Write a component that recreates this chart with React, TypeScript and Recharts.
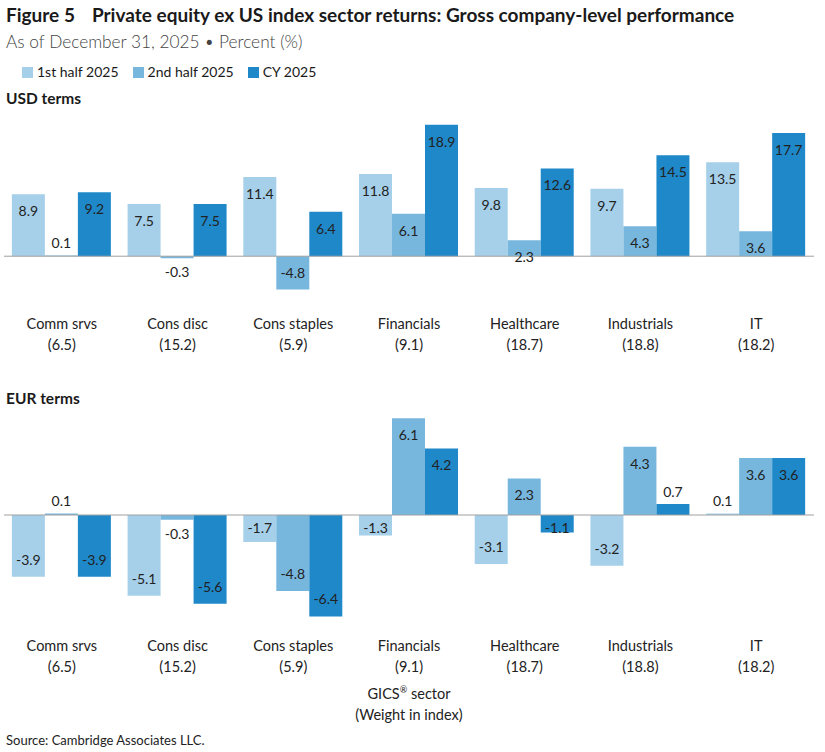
import React from 'react';
import { BarChart, Bar, XAxis, YAxis, ReferenceLine, LabelList } from 'recharts';

const categories = ['Comm srvs', 'Cons disc', 'Cons staples', 'Financials', 'Healthcare', 'Industrials', 'IT'];
const weights = ['6.5', '15.2', '5.9', '9.1', '18.7', '18.8', '18.2'];

const usdFirstHalf = [8.9, 7.5, 11.4, 11.8, 9.8, 9.7, 13.5];
const usdSecondHalf = [0.1, -0.3, -4.8, 6.1, 2.3, 4.3, 3.6];
const usdFullYear = [9.2, 7.5, 6.4, 18.9, 12.6, 14.5, 17.7];

const eurFirstHalf = [-3.9, -5.1, -1.7, -1.3, -3.1, -3.2, 0.1];
const eurSecondHalf = [0.1, -0.3, -4.8, 6.1, 2.3, 4.3, 3.6];
const eurFullYear = [-3.9, -5.6, -6.4, 4.2, -1.1, 0.7, 3.6];

const seriesNames = ['1st half 2025', '2nd half 2025', 'CY 2025'];
const colors = ['#a6d0e9', '#77b7de', '#1f88c9'];

const FONT = 'Lato, "Open Sans", sans-serif';

const buildRows = (a: number[], b: number[], c: number[]) =>
  categories.map((name, i) => ({ name, weight: weights[i], h1: a[i], h2: b[i], cy: c[i] }));

const usdRows = buildRows(usdFirstHalf, usdSecondHalf, usdFullYear);
const eurRows = buildRows(eurFirstHalf, eurSecondHalf, eurFullYear);

// value label: inside the bar end when there is room, outside otherwise
const ValueLabel = (props: any) => {
  const { x, y, width, height, value } = props;
  const top = Math.min(y, y + height);
  const bottom = Math.max(y, y + height);
  const h = bottom - top;
  const cx = x + width / 2;
  let cy: number;
  if (value >= 0) {
    cy = h >= 15 ? top + 17 : top - 12;
  } else {
    cy = h >= 15 ? Math.max(bottom - 17, top + 13) : bottom + 14;
  }
  return (
    <text x={cx} y={cy} dy="0.35em" textAnchor="middle" fontSize={14} fill="#222" fontFamily={FONT}>
      {value.toFixed(1)}
    </text>
  );
};

const CategoryTick = (props: any) => {
  const { x, y, payload, offset } = props;
  const row = usdRows.find((r) => r.name === payload.value);
  return (
    <text x={x} y={y + offset} textAnchor="middle" fontSize={14.5} fill="#222" fontFamily={FONT}>
      <tspan x={x}>{payload.value}</tspan>
      <tspan x={x} dy={21}>({row ? row.weight : ''})</tspan>
    </text>
  );
};

const SectorChart = ({ rows, domain, height, marginTop, tickOffset }: any) => (
  <BarChart
    width={825}
    height={height}
    data={rows}
    margin={{ top: marginTop, right: 11, bottom: 0, left: 4 }}
    barCategoryGap="6.8%"
    barGap={0}
  >
    <XAxis
      dataKey="name"
      axisLine={false}
      tickLine={false}
      tickSize={0}
      tickMargin={0}
      height={76}
      interval={0}
      tick={<CategoryTick offset={tickOffset} />}
    />
    <YAxis hide domain={domain} allowDataOverflow type="number" />
    <Bar dataKey="h1" fill={colors[0]} isAnimationActive={false}>
      <LabelList dataKey="h1" content={ValueLabel} />
    </Bar>
    <Bar dataKey="h2" fill={colors[1]} isAnimationActive={false}>
      <LabelList dataKey="h2" content={ValueLabel} />
    </Bar>
    <Bar dataKey="cy" fill={colors[2]} isAnimationActive={false}>
      <LabelList dataKey="cy" content={ValueLabel} />
    </Bar>
    <ReferenceLine y={0} stroke="#a0a0a0" strokeWidth={1} ifOverflow="extendDomain" />
  </BarChart>
);

const textAt = (top: number, style: React.CSSProperties): React.CSSProperties => ({
  position: 'absolute',
  top,
  left: 6,
  whiteSpace: 'nowrap',
  fontFamily: FONT,
  color: '#1a1a1a',
  ...style,
});

export default function App() {
  return (
    <div style={{ position: 'absolute', left: 0, top: 0, width: 825, height: 752, background: '#fff', overflow: 'hidden' }}>
      <div style={textAt(3, { fontSize: 19, fontWeight: 700, lineHeight: '24px' })}>
        <span>Figure 5</span>
        <span style={{ marginLeft: 17 }}>Private equity ex US index sector returns: Gross company-level performance</span>
      </div>
      <div style={textAt(31, { fontSize: 17.3, fontWeight: 300, lineHeight: '22px', color: '#444' })}>
        As of December 31, 2025 • Percent (%)
      </div>
      <div style={textAt(63, { left: 22, fontSize: 14, lineHeight: '18px', display: 'flex', gap: 14 })}>
        {seriesNames.map((name, i) => (
          <span key={name} style={{ display: 'flex', alignItems: 'center', gap: 4 }}>
            <span style={{ width: 11, height: 11, background: colors[i], display: 'inline-block' }} />
            {name}
          </span>
        ))}
      </div>
      <div style={textAt(88, { fontSize: 15.5, fontWeight: 700, lineHeight: '20px' })}>USD terms</div>

      <div style={{ position: 'absolute', left: 0, top: 100 }}>
        <SectorChart rows={usdRows} domain={[-5, 19]} height={267} marginTop={24} tickOffset={38} />
      </div>
      <div style={{ position: 'absolute', left: 0, top: 390 }}>
        <SectorChart rows={eurRows} domain={[-6.5, 6.5]} height={304} marginTop={22} tickOffset={33} />
      </div>

      <div style={textAt(388, { fontSize: 15.5, fontWeight: 700, lineHeight: '20px' })}>EUR terms</div>
      <div style={textAt(679, { left: 309, width: 200, textAlign: 'center', fontSize: 14.5, lineHeight: '21px', color: '#222' })}>
        GICS<sup style={{ fontSize: 9 }}>®</sup> sector
        <br />
        (Weight in index)
      </div>
      <div style={textAt(731, { fontSize: 13, lineHeight: '18px', color: '#222' })}>Source: Cambridge Associates LLC.</div>
    </div>
  );
}
